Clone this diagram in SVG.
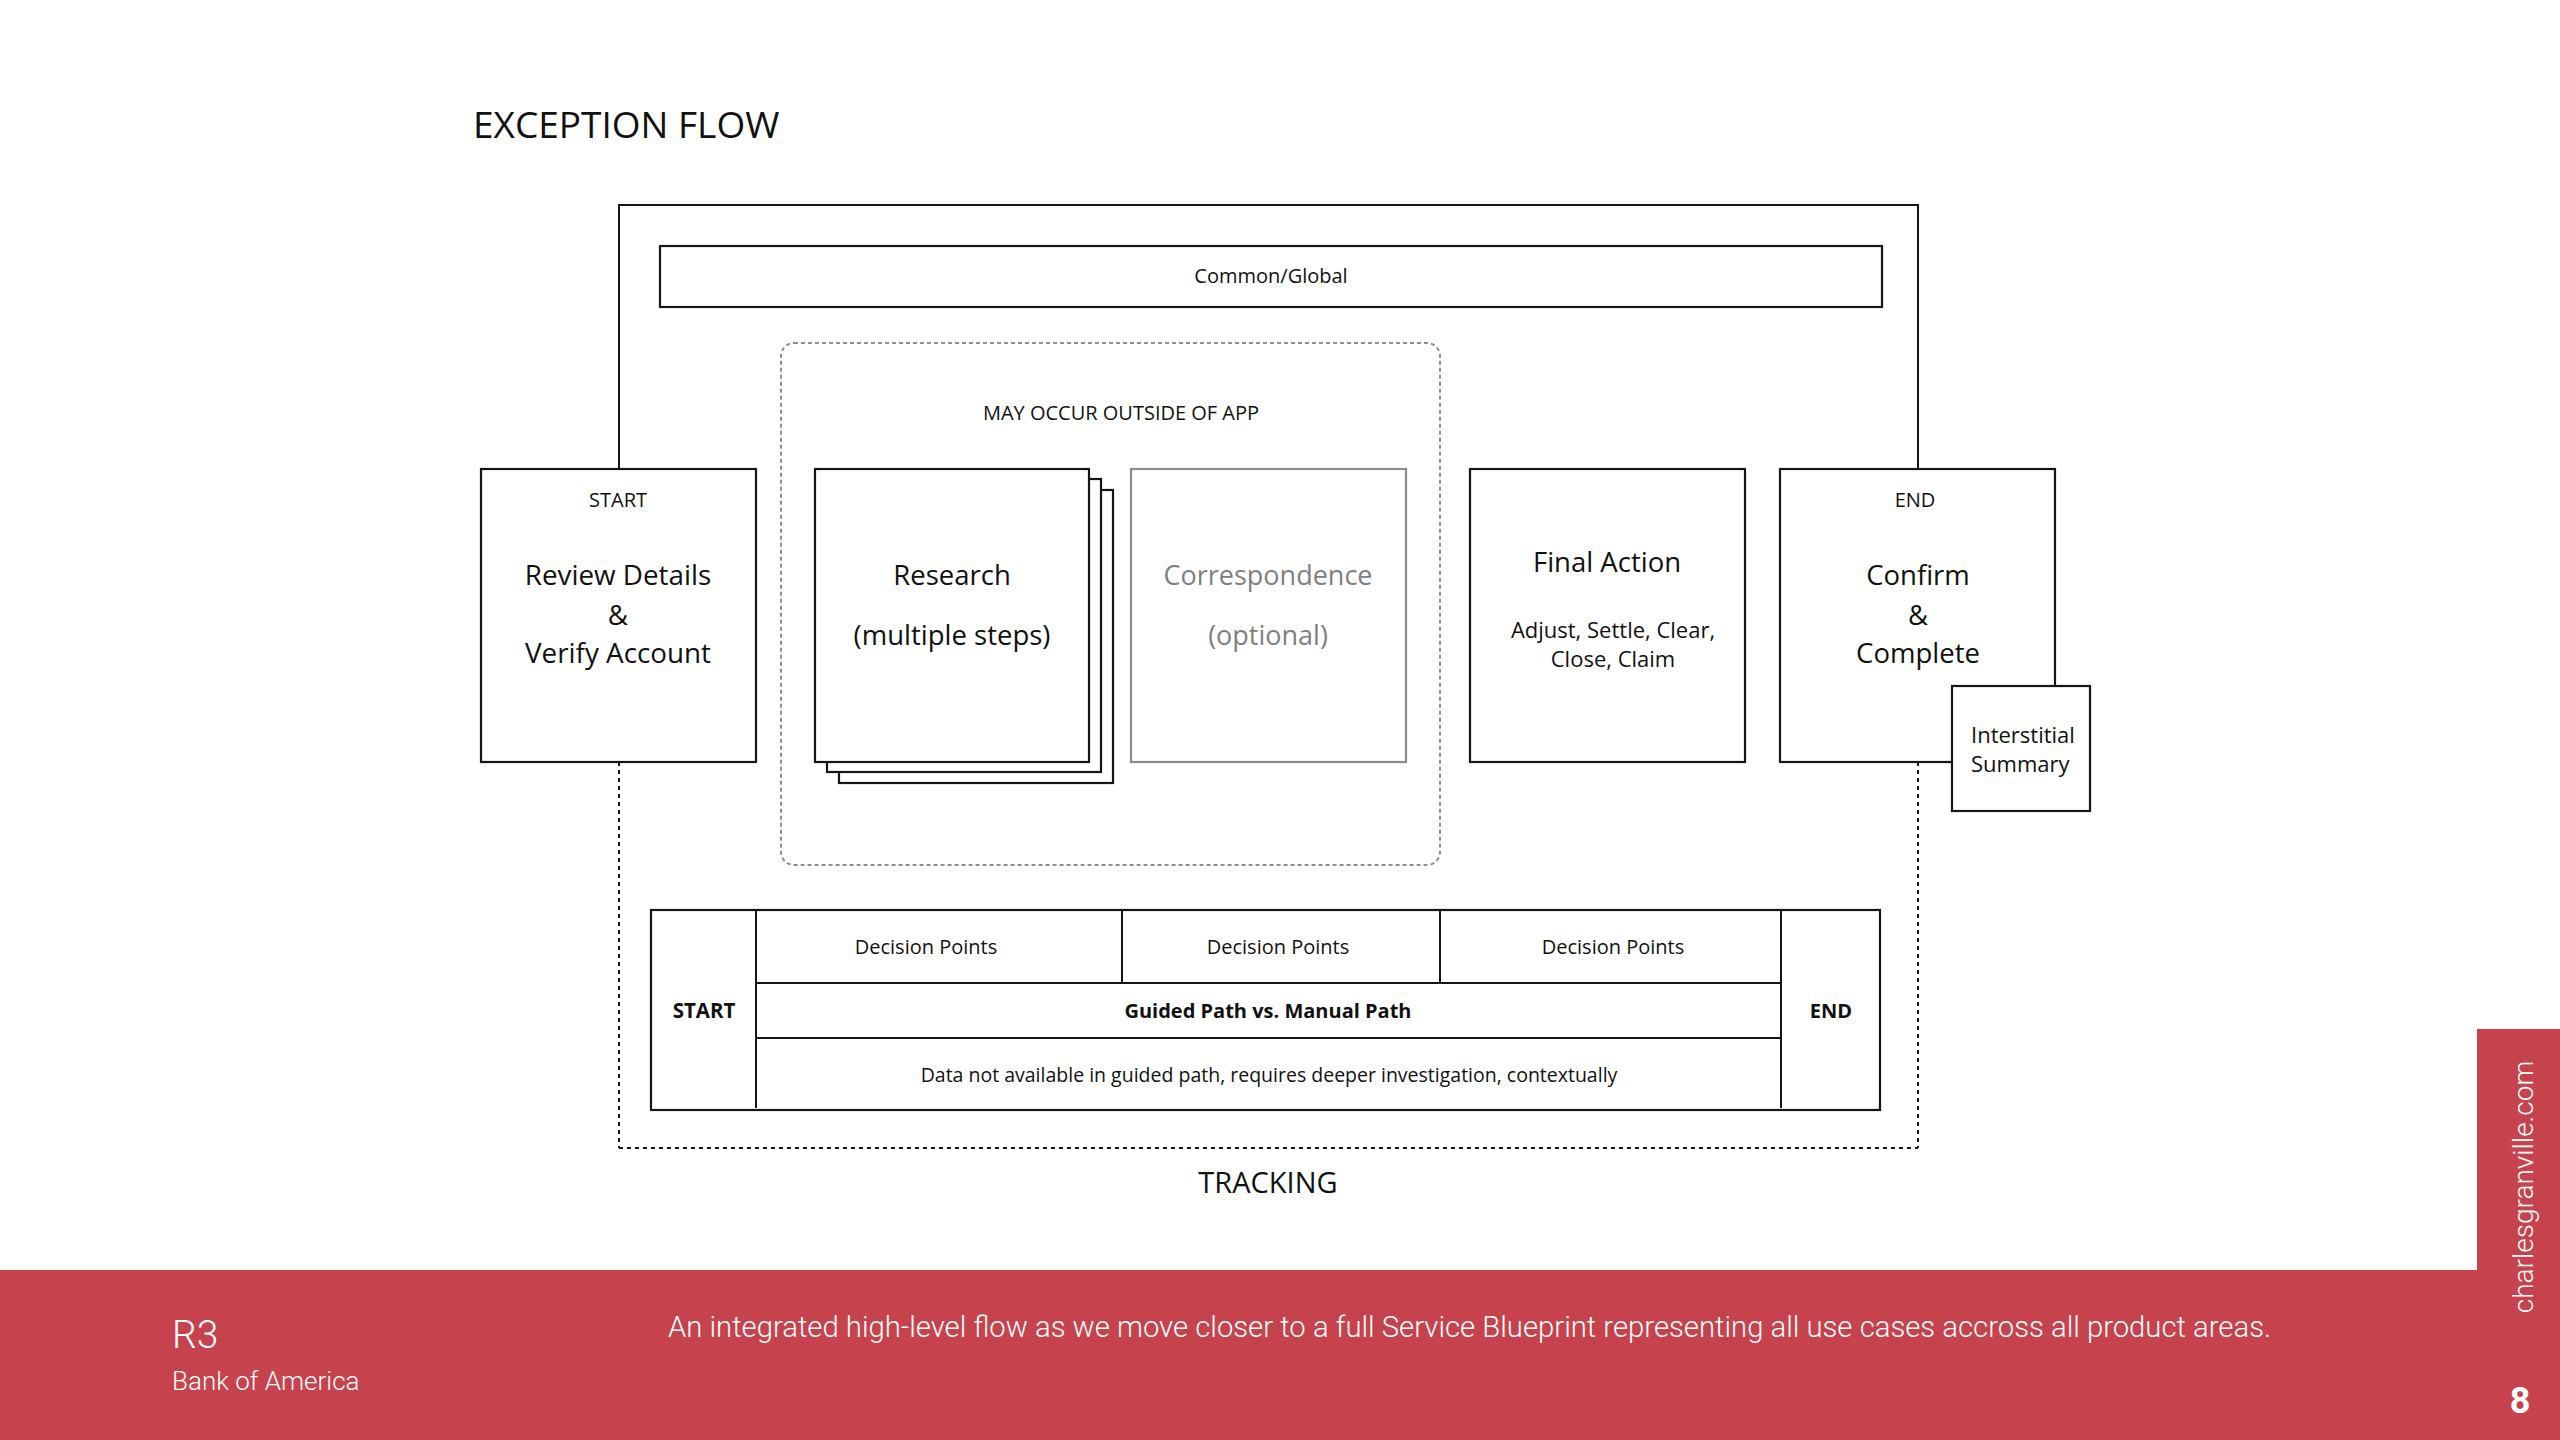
<svg xmlns="http://www.w3.org/2000/svg" width="2560" height="1440" viewBox="0 0 2560 1440">
<defs>
<style>
.t{font-family:"Open Sans","Noto Sans",sans-serif;fill:#111;}
.box{fill:#fff;stroke:#151515;stroke-width:2.2;}
.ln{fill:none;stroke:#151515;stroke-width:2;}
.dot{fill:none;stroke:#151515;stroke-width:2;stroke-dasharray:4 4;}
.f{font-family:Roboto,"Liberation Sans",sans-serif;font-weight:300;fill:#fff;}
</style>
</defs>
<rect x="0" y="0" width="2560" height="1440" fill="#fff"/>
<text id="title" class="t" x="473" y="138" font-size="37">EXCEPTION FLOW</text>

<g id="connectors">
<path class="ln" d="M619,469 V205 H1918 V469"/>
<path class="dot" d="M619,762 V1148"/>
<path class="dot" d="M1918,762 V1148"/>
<path class="dot" d="M619,1148 H1918" stroke-dasharray="3 2"/>
</g>

<g id="common-global">
<rect class="box" x="660" y="246" width="1222" height="61" stroke-width="2.5"/>
<text class="t" x="1271" y="283" font-size="20" text-anchor="middle">Common/Global</text>
</g>

<g id="outside-app">
<rect x="781" y="343" width="659" height="522" rx="13" fill="none" stroke="#8f8f8f" stroke-width="2" stroke-dasharray="4 3"/>
<text class="t" x="1121" y="420" font-size="20" text-anchor="middle">MAY OCCUR OUTSIDE OF APP</text>
</g>

<g id="start-box">
<rect class="box" x="481" y="469" width="275" height="293"/>
<text class="t" x="618" y="507" font-size="20" text-anchor="middle">START</text>
<text class="t" x="618" y="585" font-size="27.8" text-anchor="middle">Review Details</text>
<text class="t" x="618" y="625" font-size="27.8" text-anchor="middle">&amp;</text>
<text class="t" x="618" y="663" font-size="27.8" text-anchor="middle">Verify Account</text>
</g>

<g id="research">
<rect class="box" x="839" y="490" width="274" height="293"/>
<rect class="box" x="827" y="479" width="274" height="293"/>
<rect class="box" x="815" y="469" width="274" height="293"/>
<text class="t" x="952" y="585" font-size="27.5" text-anchor="middle">Research</text>
<text class="t" x="952" y="645" font-size="27.5" text-anchor="middle">(multiple steps)</text>
</g>

<g id="correspondence">
<rect x="1131" y="469" width="275" height="293" fill="#fff" stroke="#8c8c8c" stroke-width="2.2"/>
<text class="t" x="1268" y="585" font-size="27" text-anchor="middle" style="fill:#808080">Correspondence</text>
<text class="t" x="1268" y="645" font-size="27" text-anchor="middle" style="fill:#808080">(optional)</text>
</g>

<g id="final-action">
<rect class="box" x="1470" y="469" width="275" height="293"/>
<text class="t" x="1607" y="572" font-size="27.5" text-anchor="middle">Final Action</text>
<text class="t" x="1613" y="638" font-size="22" text-anchor="middle">Adjust, Settle, Clear,</text>
<text class="t" x="1613" y="667" font-size="22" text-anchor="middle">Close, Claim</text>
</g>

<g id="end-box">
<rect class="box" x="1780" y="469" width="275" height="293"/>
<text class="t" x="1915" y="507" font-size="20" text-anchor="middle">END</text>
<text class="t" x="1918" y="585" font-size="27.5" text-anchor="middle">Confirm</text>
<text class="t" x="1918" y="625" font-size="27.5" text-anchor="middle">&amp;</text>
<text class="t" x="1918" y="663" font-size="27.5" text-anchor="middle">Complete</text>
</g>

<g id="interstitial">
<rect class="box" x="1952" y="686" width="138" height="125"/>
<text class="t" x="1971" y="743" font-size="22">Interstitial</text>
<text class="t" x="1971" y="772" font-size="22">Summary</text>
</g>

<g id="path-table">
<rect class="box" x="651" y="910" width="1229" height="200" stroke-width="2.5"/>
<path class="ln" d="M756,910 V1108 M1781,910 V1108 M756,983 H1781 M756,1038 H1781 M1122,910 V983 M1440,910 V983"/>
<text class="t" x="926" y="954" font-size="20" text-anchor="middle">Decision Points</text>
<text class="t" x="1278" y="954" font-size="20" text-anchor="middle">Decision Points</text>
<text class="t" x="1613" y="954" font-size="20" text-anchor="middle">Decision Points</text>
<text class="t" x="704" y="1018" font-size="20.5" font-weight="700" text-anchor="middle">START</text>
<text class="t" x="1268" y="1018" font-size="20" font-weight="700" text-anchor="middle">Guided Path vs. Manual Path</text>
<text class="t" x="1831" y="1018" font-size="20" font-weight="700" text-anchor="middle">END</text>
<text class="t" x="1269" y="1082" font-size="19.5" text-anchor="middle">Data not available in guided path, requires deeper investigation, contextually</text>
</g>

<text id="tracking" class="t" x="1268" y="1193" font-size="29" text-anchor="middle">TRACKING</text>

<g id="footer">
<rect x="0" y="1270" width="2560" height="170" fill="#C6424C"/>
<rect x="2477" y="1029" width="83" height="411" fill="#C6424C"/>
<text class="f" x="172" y="1348" font-size="39">R3</text>
<text class="f" x="172" y="1390" font-size="26">Bank of America</text>
<text class="f" x="668" y="1337" font-size="30" textLength="1603" lengthAdjust="spacingAndGlyphs">An integrated high-level flow as we move closer to a full Service Blueprint representing all use cases accross all product areas.</text>
<text class="f" x="0" y="0" font-size="28" font-weight="400" text-anchor="middle" transform="translate(2533,1187) rotate(-90)">charlesgranville.com</text>
<text x="2520" y="1413" font-size="36" font-weight="700" text-anchor="middle" style="font-family:Roboto,'Liberation Sans',sans-serif;fill:#fff">8</text>
</g>
</svg>
